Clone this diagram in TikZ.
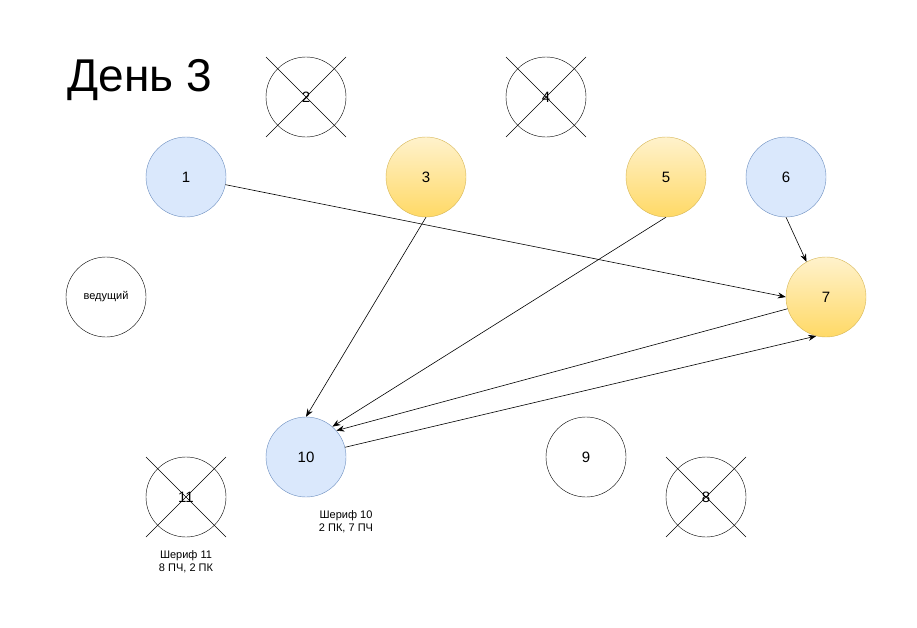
\documentclass[tikz,border=0pt]{standalone}
\usepackage{fontspec}
\setmainfont{Liberation Sans}
\usetikzlibrary{arrows.meta,calc}
\definecolor{bf}{HTML}{DAE8FC}\definecolor{bs}{HTML}{6C8EBF}
\definecolor{yt}{HTML}{FFF2CC}\definecolor{yb}{HTML}{FFD966}\definecolor{ys}{HTML}{D6B656}
\begin{document}
\begin{tikzpicture}[x=1pt,y=-1pt,
 c/.style={circle,draw=black,minimum size=80pt,inner sep=0,font=\fontsize{15}{18}\selectfont},
 blue/.style={c,fill=bf,draw=bs},
 yel/.style={c,draw=ys,top color=yt,bottom color=yb},
 ar/.style={-{Stealth[length=8pt,width=6pt]},line width=0.6pt},
 lb/.style={font=\fontsize{11}{13}\selectfont,align=center}]
\useasboundingbox (0,0) rectangle (917,627);
\node[anchor=west,font=\fontsize{46}{50}\selectfont] (t) at (64,80) {День 3};
\node[blue] (n1) at (186,177) {1};
\node[c] (n2) at (306,97) {2};
\node[yel] (n3) at (426,177) {3};
\node[c] (n4) at (546,97) {4};
\node[yel] (n5) at (666,177) {5};
\node[blue] (n6) at (786,177) {6};
\node[yel] (n7) at (826,297) {7};
\node[c,font=\fontsize{11}{13}\selectfont] (v) at (106,297) {ведущий};
\node[blue] (n10) at (306,457) {10};
\node[c] (n9) at (586,457) {9};
\node[c] (n8) at (706,497) {8};
\node[c] (n11) at (186,497) {11};
\foreach \n in {n2,n4,n8,n11}{
 \draw ($(\n)+(-40,-40)$) -- ($(\n)+(40,40)$);
 \draw ($(\n)+(40,-40)$) -- ($(\n)+(-40,40)$);}
\node[lb] (s10) at (346,522) {Шериф 10\\2 ПК, 7 ПЧ};
\node[lb] (s11) at (186,562) {Шериф 11\\8 ПЧ, 2 ПК};
\draw[ar] (n1.-11) -- (n7.180);
\draw[ar] (n3.-90) -- (n10.90);
\draw[ar] (n5.-90) -- (n10.49);
\draw[ar] (n6.-90) -- (n7.119);
\draw[ar] (n7.197) -- (n10.41);
\draw[ar] (n10.14) -- (n7.-104);
\end{tikzpicture}
\end{document}
